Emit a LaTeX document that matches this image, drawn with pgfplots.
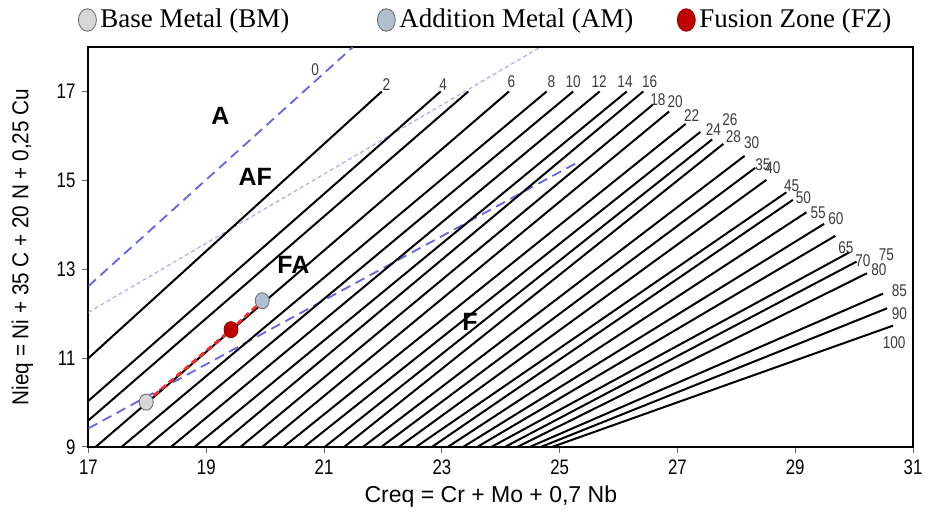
\documentclass[border=0pt]{standalone}
\usepackage{pgfplots}
\pgfplotsset{compat=1.18}
\usepackage{fontspec}
\setmainfont{Liberation Serif}
\newfontfamily\ticksf[FakeStretch=0.8]{Liberation Sans}
\newfontfamily\labsf[FakeStretch=0.9]{Liberation Sans}
\newfontfamily\xlabsf{Liberation Sans}
\newfontfamily\fnsf[FakeStretch=0.8]{Liberation Sans}
\newfontfamily\regsf{Liberation Sans}
\definecolor{dashblue}{RGB}{100,100,235}
\definecolor{dotblue}{RGB}{170,170,240}
\definecolor{bmfill}{RGB}{215,215,215}
\definecolor{amfill}{RGB}{176,190,208}
\definecolor{fzfill}{RGB}{192,0,0}
\definecolor{fntext}{RGB}{60,60,60}
\begin{document}
\begin{tikzpicture}
\useasboundingbox (-44.25pt,-35pt) rectangle (422.25pt,223.5pt);
\begin{axis}[
  at={(0,0)}, anchor=south west,
  scale only axis, width=412.25pt, height=200pt,
  xmin=17, xmax=31, ymin=9, ymax=18,
  xtick={17,19,...,31}, ytick={9,11,...,17},
  tick align=outside, xtick pos=bottom, ytick pos=left,
  major tick length=3pt,
  tick style={black!60, line width=0.5pt},
  axis line style={line width=1pt},
  /pgf/number format/assume math mode=true,
  ticklabel style={font=\ticksf\fontsize{10.5}{12}\selectfont},
  xlabel={Creq = Cr + Mo + 0,7 Nb},
  ylabel={Nieq = Ni + 35 C + 20 N + 0,25 Cu},
  xlabel style={font=\xlabsf\fontsize{11.5}{13}\selectfont, at={(axis description cs:0.488,-0.125)}, anchor=center},
  ylabel style={font=\labsf\fontsize{11.5}{13}\selectfont, at={(axis description cs:-0.08,0.5)}, anchor=center},
  legend columns=3,
  legend style={draw=none, fill=none, at={(axis description cs:-0.02,1.0675)}, anchor=west,
    font=\fontsize{13.5}{15}\selectfont,
    /tikz/column 2/.style={column sep=42pt},
    /tikz/column 4/.style={column sep=20pt}},
  legend image code/.code={\draw[mark repeat=2,mark phase=2,#1] plot coordinates {(0cm,0cm) (0.2cm,0cm) (0.4cm,0cm)};},
  fn/.style={black, line width=1pt, no marks, solid, forget plot},
]
\addlegendimage{only marks, mark=*, mark size=4.5pt, mark options={yscale=1.25, fill=bmfill, draw=black!60}}
\addlegendentry{Base Metal (BM)}
\addlegendimage{only marks, mark=*, mark size=4.5pt, mark options={yscale=1.25, fill=amfill, draw=black!60}}
\addlegendentry{Addition Metal (AM)}
\addlegendimage{only marks, mark=*, mark size=4.5pt, mark options={yscale=1.25, fill=fzfill, draw=fzfill!70!black}}
\addlegendentry{Fusion Zone (FZ)}

% phase boundaries
\addplot[dashblue, line width=0.9pt, no marks, dash pattern=on 5pt off 3pt, forget plot] coordinates {(17,12.62) (21.49,18)};
\addplot[dotblue, line width=0.6pt, no marks, dash pattern=on 2pt off 1.5pt, forget plot] coordinates {(17,12.03) (24.65,17.98)};
\addplot[dashblue, line width=0.9pt, no marks, dash pattern=on 5pt off 3pt, forget plot] coordinates {(17,9.42) (25.27,15.38)};

% iso-FN lines
\addplot[fn] coordinates {(17,11.0) (21.98,17)};
\addplot[fn] coordinates {(17,10.04) (22.98,17)};
\addplot[fn] coordinates {(17,9.6) (23.45,17)};
\addplot[fn] coordinates {(17.12,9) (24.14,17)};
\addplot[fn] coordinates {(17.56,9) (24.78,17)};
\addplot[fn] coordinates {(17.98,9) (25.23,17)};
\addplot[fn] coordinates {(18.40,9) (25.68,17)};
\addplot[fn] coordinates {(18.80,9) (26.14,17)};
\addplot[fn] coordinates {(19.19,9) (26.42,17)};
\addplot[fn] coordinates {(19.58,9) (26.58,16.70)};
\addplot[fn] coordinates {(19.95,9) (26.86,16.55)};
\addplot[fn] coordinates {(20.31,9) (27.14,16.27)};
\addplot[fn] coordinates {(20.66,9) (27.39,16.09)};
\addplot[fn] coordinates {(21.01,9) (27.59,15.92)};
\addplot[fn] coordinates {(21.34,9) (27.78,15.82)};
\addplot[fn] coordinates {(21.66,9) (28.14,15.55)};
\addplot[fn] coordinates {(21.97,9) (28.32,15.28)};
\addplot[fn] coordinates {(22.27,9) (28.51,15.01)};
\addplot[fn] coordinates {(22.56,9) (28.85,14.73)};
\addplot[fn] coordinates {(22.83,9) (28.96,14.56)};
\addplot[fn] coordinates {(23.10,9) (29.19,14.28)};
\addplot[fn] coordinates {(23.36,9) (29.49,14.02)};
\addplot[fn] coordinates {(23.60,9) (29.68,13.75)};
\addplot[fn] coordinates {(23.84,9) (29.92,13.38)};
\addplot[fn] coordinates {(24.07,9) (30.04,13.17)};
\addplot[fn] coordinates {(24.28,9) (30.22,12.91)};
\addplot[fn] coordinates {(24.49,9) (30.49,12.45)};
\addplot[fn] coordinates {(24.68,9) (30.56,12.12)};
\addplot[fn] coordinates {(24.87,9) (30.66,11.73)};

% weld path
\addplot[red!85!white, line width=1.4pt, no marks, dash pattern=on 3pt off 2pt, forget plot] coordinates {(17.98,10.01) (19.42,11.64) (19.95,12.29)};
\addplot[only marks, mark=*, mark size=3.5pt, mark options={yscale=1.15, fill=bmfill, draw=black!60, solid}, forget plot] coordinates {(17.98,10.01)};
\addplot[only marks, mark=*, mark size=3.5pt, mark options={yscale=1.15, fill=amfill, draw=black!60, solid}, forget plot] coordinates {(19.95,12.29)};
\addplot[only marks, mark=*, mark size=3.5pt, mark options={yscale=1.15, fill=fzfill, draw=fzfill!70!black, solid}, forget plot] coordinates {(19.42,11.64)};

% FN labels
\begin{scope}[every node/.style={font=\fnsf\fontsize{8.5}{9}\selectfont, text=fntext, inner sep=0pt}]
\node at (axis cs:20.85,17.49) {0};
\node at (axis cs:22.06,17.15) {2};
\node at (axis cs:23.02,17.15) {4};
\node at (axis cs:24.18,17.23) {6};
\node at (axis cs:24.86,17.23) {8};
\node at (axis cs:25.23,17.23) {10};
\node at (axis cs:25.67,17.23) {12};
\node at (axis cs:26.11,17.23) {14};
\node at (axis cs:26.53,17.23) {16};
\node at (axis cs:26.67,16.82) {18};
\node at (axis cs:26.96,16.76) {20};
\node at (axis cs:27.24,16.45) {22};
\node at (axis cs:27.61,16.14) {24};
\node at (axis cs:27.89,16.36) {26};
\node at (axis cs:27.95,15.99) {28};
\node at (axis cs:28.26,15.85) {30};
\node at (axis cs:28.45,15.36) {35};
\node at (axis cs:28.62,15.28) {40};
\node at (axis cs:28.94,14.88) {45};
\node at (axis cs:29.14,14.60) {50};
\node at (axis cs:29.39,14.26) {55};
\node at (axis cs:29.69,14.13) {60};
\node at (axis cs:29.86,13.48) {65};
\node at (axis cs:30.15,13.20) {70};
\node at (axis cs:30.55,13.32) {75};
\node at (axis cs:30.42,12.99) {80};
\node at (axis cs:30.77,12.52) {85};
\node at (axis cs:30.77,11.99) {90};
\node at (axis cs:30.68,11.35) {100};
\end{scope}
\begin{scope}[every node/.style={font=\regsf\bfseries\fontsize{12.5}{14}\selectfont, inner sep=0pt}]
\node at (axis cs:19.24,16.45) {A};
\node at (axis cs:19.83,15.08) {AF};
\node at (axis cs:20.48,13.10) {FA};
\node at (axis cs:23.48,11.82) {F};
\end{scope}
\end{axis}
\end{tikzpicture}
\end{document}
